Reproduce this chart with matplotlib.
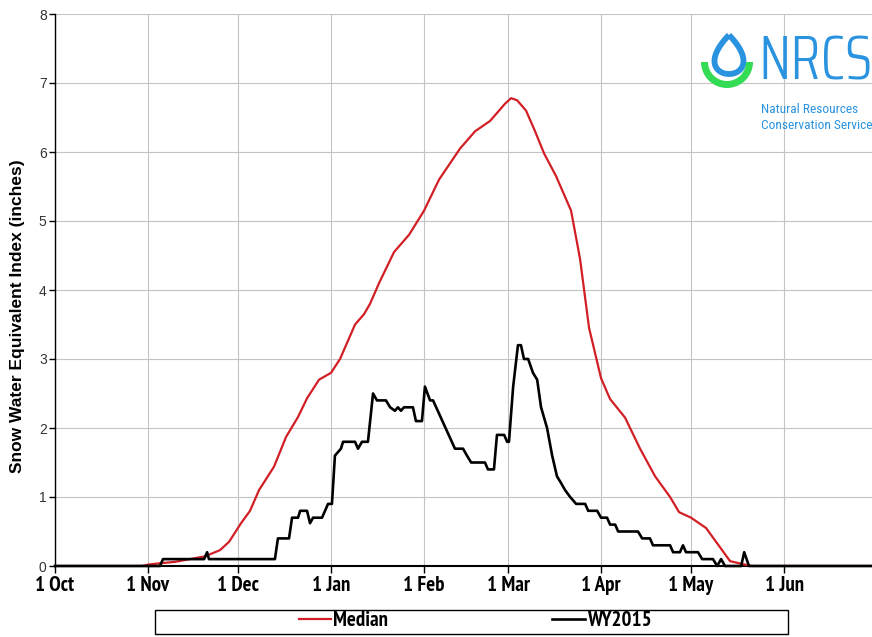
"""Snow water equivalent index: median vs WY2015, NRCS style."""
import matplotlib
matplotlib.use('Agg')
import matplotlib.pyplot as plt
import numpy as np
from matplotlib.patches import PathPatch, Wedge, Rectangle
from matplotlib.font_manager import FontProperties
from matplotlib.path import Path

# days since 1 Oct (water year day)
month_days = [0, 31, 61, 92, 123, 151, 182, 212, 243]
month_labels = ['1 Oct', '1 Nov', '1 Dec', '1 Jan', '1 Feb', '1 Mar', '1 Apr', '1 May', '1 Jun']

median_day = [0, 29, 31, 35, 40, 45, 50, 55, 58, 62, 65, 68, 73, 77, 81, 84, 88, 92, 95,
              100, 103, 105, 108, 113, 118, 123, 128, 135, 140, 145, 150, 152, 154, 157,
              160, 163, 167, 172, 175, 178, 182, 185, 190, 195, 200, 205, 208, 212, 217, 222,
              225, 230, 232, 272]
median_swe = [0, 0, 0.02, 0.04, 0.06, 0.1, 0.14, 0.23, 0.35, 0.62, 0.8, 1.1, 1.44, 1.87, 2.16,
              2.43, 2.7, 2.8, 3.0, 3.5, 3.65, 3.8, 4.1, 4.55, 4.8, 5.15, 5.6, 6.05, 6.3, 6.45,
              6.7, 6.78, 6.75, 6.6, 6.3, 5.98, 5.65, 5.15, 4.45, 3.45, 2.72, 2.42, 2.15, 1.7,
              1.3, 1.0, 0.78, 0.7, 0.55, 0.25, 0.07, 0.02, 0, 0]

wy_day = [0, 35, 36, 49.7, 50.7, 51.3, 73.3, 74.3, 78, 79, 81, 81.7, 84, 85, 86, 89, 91,
          92.3, 93.3, 94.3, 95.3, 96, 100, 101, 102.3, 104.3, 106, 107.3, 110.3, 111.7,
          113.3, 114.3, 115.3, 116.3, 119.3, 120.3, 122.3, 123.3, 125, 126, 133.3, 136,
          137.3, 138.7, 143.3, 144.3, 146.3, 147.3, 149.7, 150.7, 151.3, 152.7, 154.3,
          155.3, 156.3, 157.7, 159.3, 160.7, 162, 164, 165.7, 167.3, 168.7, 170, 171.7,
          173.7, 176.7, 177.7, 180.7, 182, 184, 185, 186.7, 187.7, 194.3, 195.7, 198.3,
          199.3, 205, 206, 208.3, 209.3, 210.3, 214.3, 215.7, 219.3, 220.7, 222, 223.3,
          228.7, 229.7, 231.3, 272]
wy_swe = [0, 0, 0.1, 0.1, 0.2, 0.1, 0.1, 0.4, 0.4, 0.7, 0.7, 0.8, 0.8, 0.62, 0.7, 0.7, 0.9,
          0.9, 1.6, 1.65, 1.7, 1.8, 1.8, 1.7, 1.8, 1.8, 2.5, 2.4, 2.4, 2.3, 2.25, 2.3, 2.25,
          2.3, 2.3, 2.1, 2.1, 2.6, 2.4, 2.4, 1.7, 1.7, 1.6, 1.5, 1.5, 1.4, 1.4, 1.9, 1.9,
          1.8, 1.8, 2.6, 3.2, 3.2, 3.0, 3.0, 2.8, 2.7, 2.3, 2.0, 1.6, 1.3, 1.2, 1.1, 1.0,
          0.9, 0.9, 0.8, 0.8, 0.7, 0.7, 0.6, 0.6, 0.5, 0.5, 0.4, 0.4, 0.3, 0.3, 0.2, 0.2,
          0.3, 0.2, 0.2, 0.1, 0.1, 0, 0.1, 0, 0, 0.2, 0, 0]

RED = '#d21f26'
BLUE = '#2a93e0'
GREEN = '#34dc55'
NARROW = ['PT Sans Narrow', 'Liberation Sans', 'DejaVu Sans']
ARIAL = ['Liberation Sans', 'DejaVu Sans']

W, H = 872, 637
fig = plt.figure(figsize=(W / 100, H / 100), dpi=100)
ax = fig.add_axes([55 / W, 1 - 566 / H, 1 - 55 / W, (566 - 14) / H])

l_med, = ax.plot(median_day, median_swe, color=RED, lw=1.6, label='Median', zorder=3)
l_wy, = ax.plot(wy_day, wy_swe, color='black', lw=1.9, label='WY2015', zorder=4,
                clip_on=False)

ax.set_xlim(0, 272.3)
ax.set_ylim(0, 8)
ax.set_xticks(month_days)
ax.set_xticklabels(month_labels, fontfamily=NARROW, fontweight='bold', fontsize=15)
ax.set_yticks(range(0, 9))
ax.set_yticklabels([str(i) for i in range(9)], fontfamily=ARIAL, fontsize=10, color='#333333')
ax.tick_params(axis='x', direction='out', length=5, width=1, pad=2)
ax.tick_params(axis='y', direction='out', length=4, width=1, pad=2)
ax.grid(True, color='#c4c4c4', lw=0.8)
ax.set_axisbelow(True)
for s in ('top', 'right'):
    ax.spines[s].set_visible(False)
ax.spines['left'].set_linewidth(1.0)
ax.spines['bottom'].set_linewidth(1.5)
ax.set_ylabel('Snow Water Equivalent Index (inches)', fontfamily=ARIAL, fontweight='bold',
              fontsize=12.5)
ax.yaxis.set_label_coords(-0.037, 0.453)

# legend: frame drawn as its own box
fig.patches.append(Rectangle((155 / W, 1 - 634 / H), 633 / W, 24 / H, transform=fig.transFigure,
                             fill=False, edgecolor='black', lw=1.0))
fig.legend(handles=[l_med, l_wy], loc='center', bbox_to_anchor=(475 / W, 1 - 621 / H),
           ncol=2, frameon=False, handlelength=1.55, handletextpad=0.1, columnspacing=7.9,
           prop=FontProperties(family=NARROW, weight='bold', size=15))

# NRCS logo, in pixel coordinates
lg = fig.add_axes([0, 0, 1, 1], zorder=5)
lg.set_xlim(0, W)
lg.set_ylim(H, 0)
lg.axis('off')
lg.patch.set_alpha(0)

t = np.linspace(0, 2 * np.pi, 200)
dx = np.sin(t) * np.sin(t / 2) / 0.77 * 14.5 + 729
dy = 54.5 - np.cos(t) * 19.5
lg.add_patch(PathPatch(Path(np.column_stack([dx, dy])), facecolor='white', edgecolor=BLUE,
                       lw=4.2))
lg.add_patch(Wedge((727, 62), 26, 0, 180, width=7, facecolor=GREEN, edgecolor='none'))

lg.text(758, 79, 'NRCS', color=BLUE, fontsize=44, fontfamily=['Saira Condensed'],
        fontweight=300, va='baseline', ha='left')
lg.text(761, 113, 'Natural Resources', color=BLUE, fontsize=9.6,
        fontfamily=['Roboto Condensed'], va='baseline')
lg.text(761, 129, 'Conservation Service', color=BLUE, fontsize=9.6,
        fontfamily=['Roboto Condensed'], va='baseline')

fig.savefig('out.png', dpi=100, facecolor='white')
